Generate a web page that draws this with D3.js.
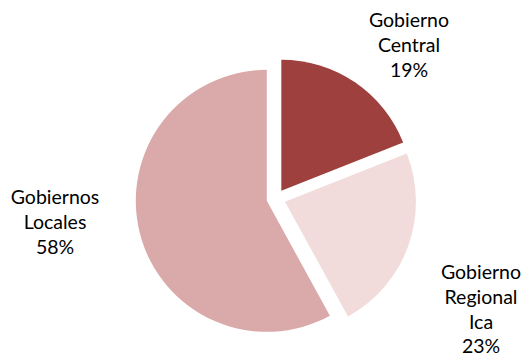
<!DOCTYPE html>
<html>
<head>
<meta charset="utf-8">
<script src="https://cdn.jsdelivr.net/npm/d3@7"></script>
<style>
  html, body { margin: 0; padding: 0; background: #fff; }
  svg { display: block; }
</style>
</head>
<body>
<svg id="chart" width="526" height="359"></svg>
<script>
// Distribution by level of government
const categories = ["Gobierno Central", "Gobierno Regional Ica", "Gobiernos Locales"];
const shares = [19, 23, 58];
const colors = ["#9E403E", "#F2DCDB", "#DAA9A9"];
const labelLines = [
  ["Gobierno", "Central", "19%"],
  ["Gobierno", "Regional", "Ica", "23%"],
  ["Gobiernos", "Locales", "58%"]
];
const labelPos = [[409, 27], [481, 279], [55, 204]];

const width = 526, height = 359;
const cx = 276, cy = 198.5, radius = 131, explode = 9.5;

const svg = d3.select("#chart");

const pie = d3.pie().sort(null).value(d => d)
  .startAngle(0).endAngle(2 * Math.PI);
const arc = d3.arc().innerRadius(0).outerRadius(radius);

const arcs = pie(shares);

const g = svg.append("g").attr("transform", `translate(${cx},${cy})`);

g.selectAll("path.slice")
  .data(arcs)
  .join("path")
  .attr("class", "slice")
  .attr("fill", (d, i) => colors[i])
  .attr("transform", d => {
    const mid = (d.startAngle + d.endAngle) / 2;
    return `translate(${explode * Math.sin(mid)},${-explode * Math.cos(mid)})`;
  })
  .attr("d", arc);

const labels = svg.selectAll("text.label")
  .data(labelLines)
  .join("text")
  .attr("class", "label")
  .attr("text-anchor", "middle")
  .attr("font-family", "Lato, 'Open Sans', sans-serif")
  .attr("font-size", 19.5)
  .attr("fill", "#000")
  .attr("x", (d, i) => labelPos[i][0])
  .attr("y", (d, i) => labelPos[i][1]);

labels.selectAll("tspan")
  .data((d, i) => d.map(t => ({ t, x: labelPos[i][0] })))
  .join("tspan")
  .attr("x", d => d.x)
  .attr("dy", (d, j) => j === 0 ? 0 : 24.8)
  .text(d => d.t);
</script>
</body>
</html>
